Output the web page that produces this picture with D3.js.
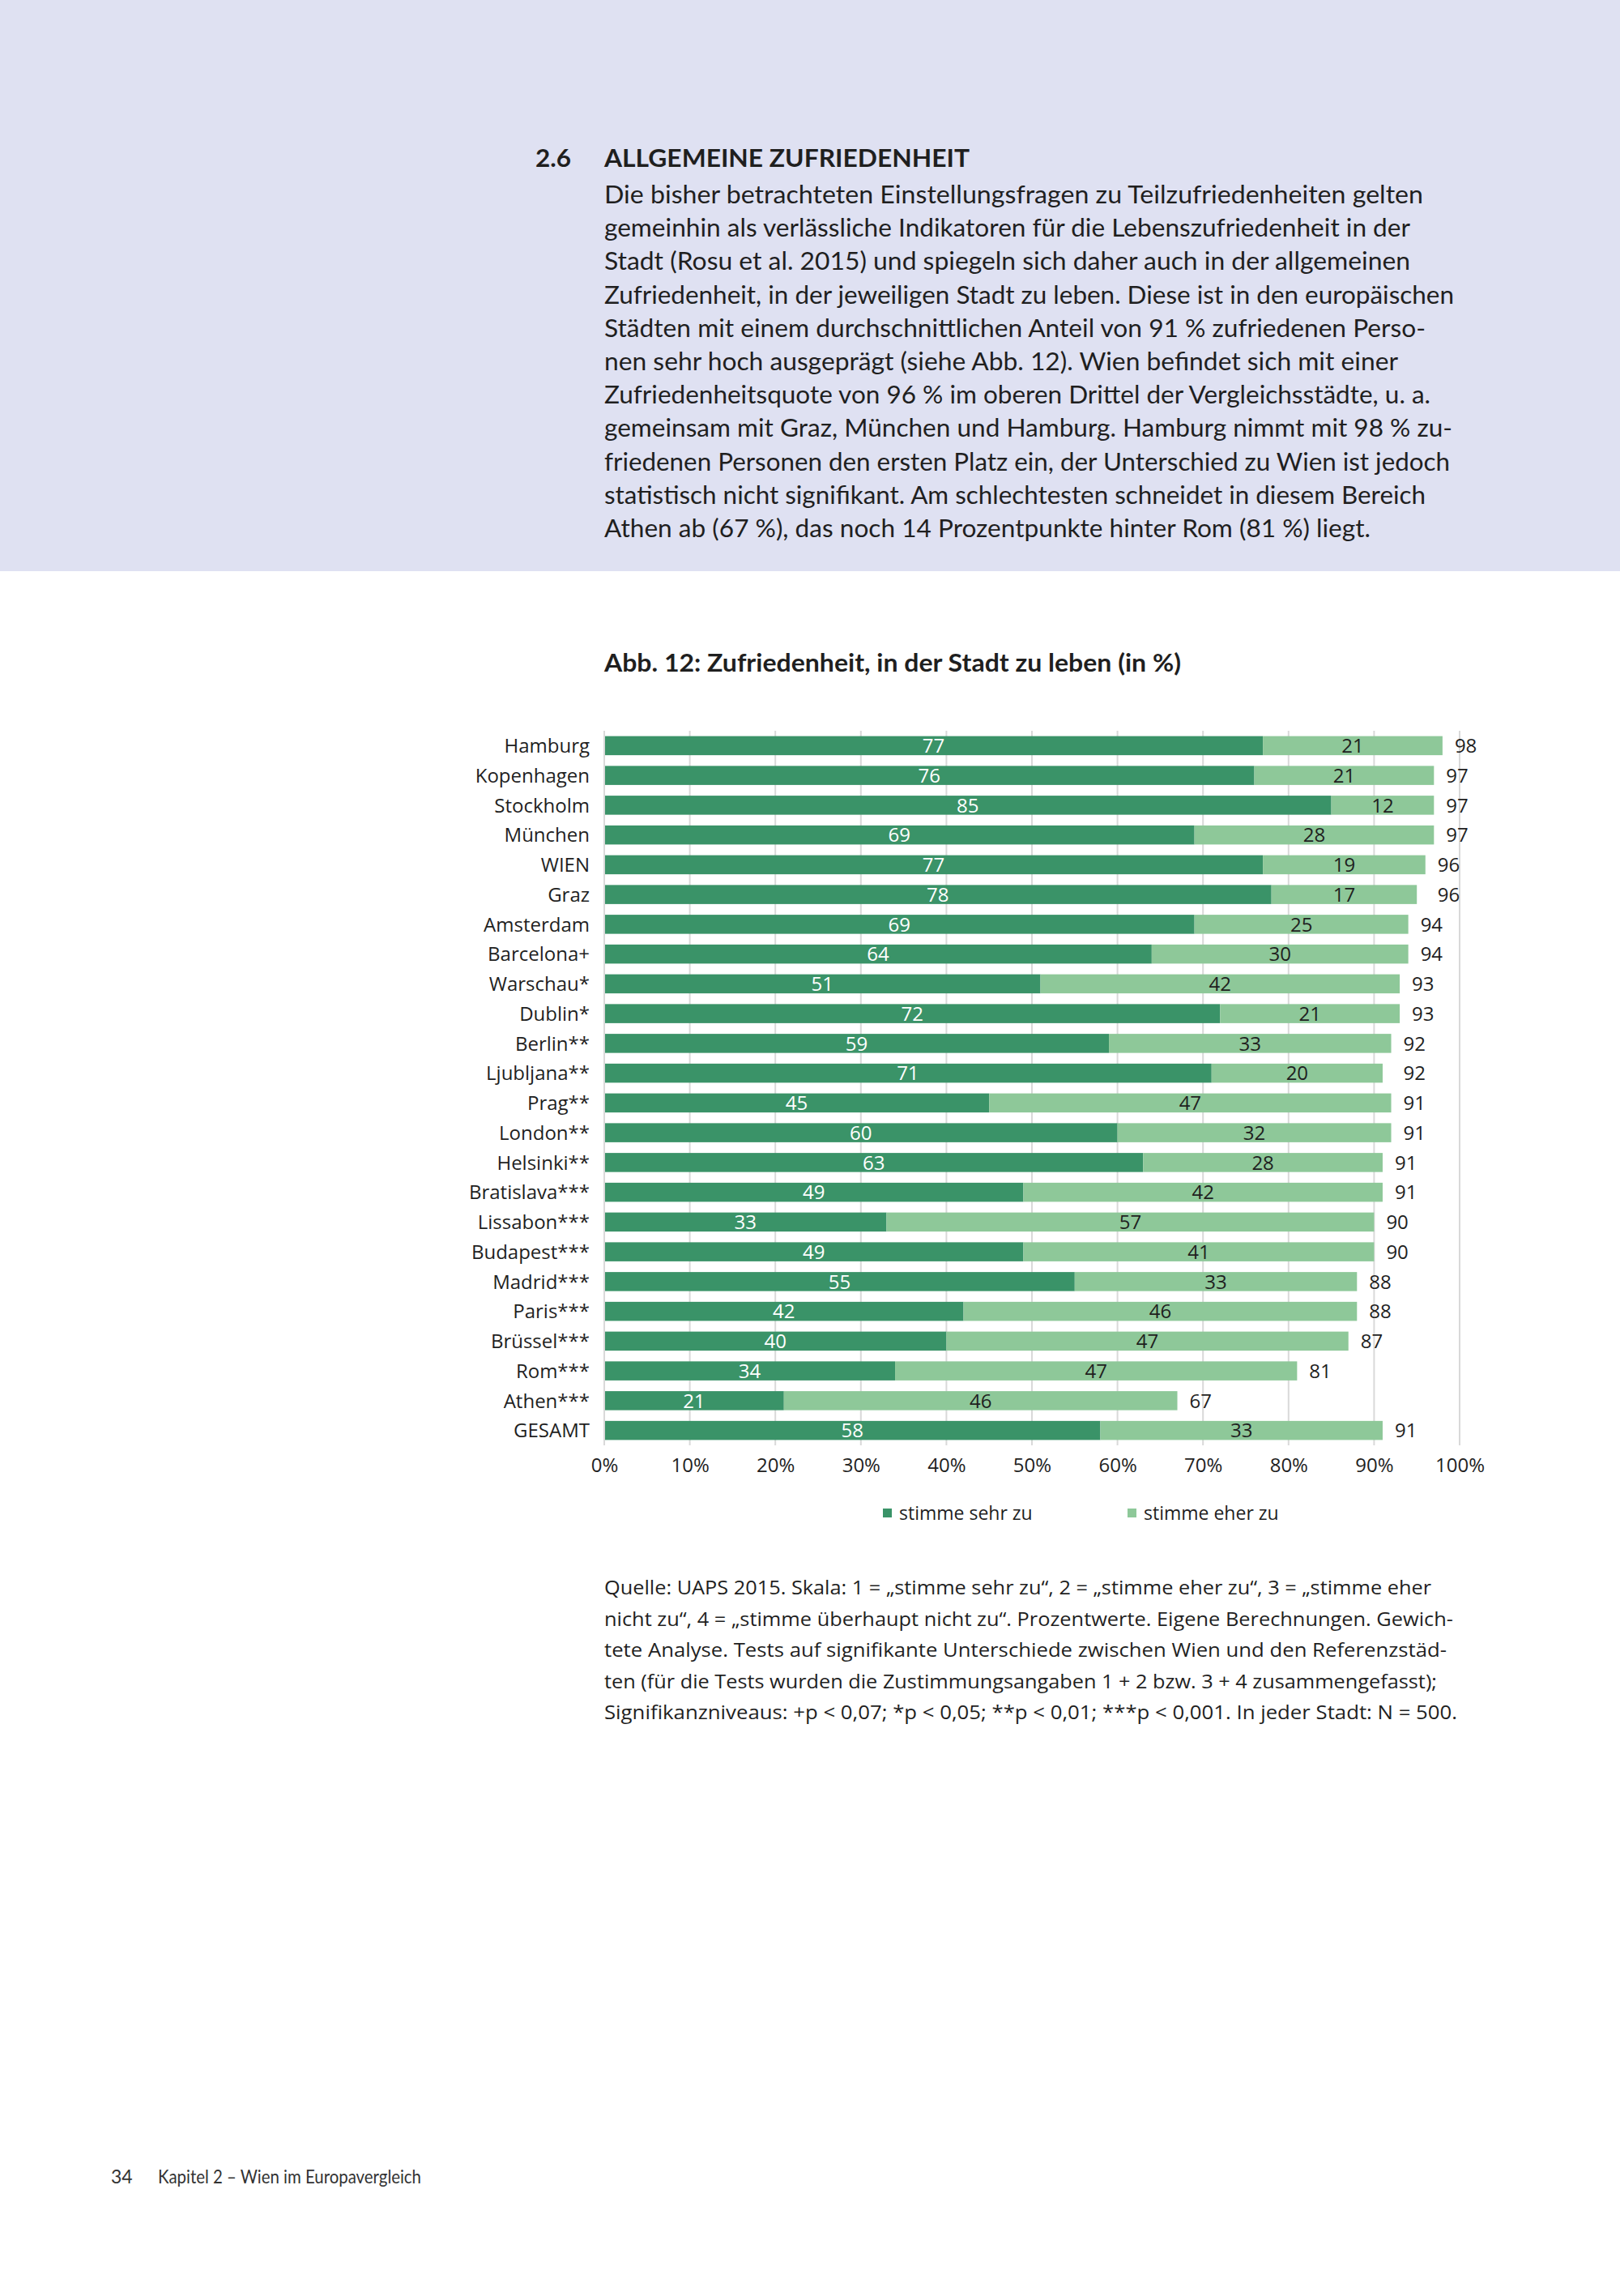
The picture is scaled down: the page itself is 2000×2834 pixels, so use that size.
<!DOCTYPE html>
<html>
<head>
<meta charset="utf-8">
<script src="https://cdn.jsdelivr.net/npm/d3@7"></script>
<style>
  html, body { margin: 0; padding: 0; background: #ffffff; }
  svg { display: block; }
</style>
</head>
<body>
<script>
// ---------- DATA ----------
const cities = ["Hamburg","Kopenhagen","Stockholm","München","WIEN","Graz","Amsterdam","Barcelona+","Warschau*","Dublin*","Berlin**","Ljubljana**","Prag**","London**","Helsinki**","Bratislava***","Lissabon***","Budapest***","Madrid***","Paris***","Brüssel***","Rom***","Athen***","GESAMT"];
const sehr   = [77,76,85,69,77,78,69,64,51,72,59,71,45,60,63,49,33,49,55,42,40,34,21,58];
const eher   = [21,21,12,28,19,17,25,30,42,21,33,20,47,32,28,42,57,41,33,46,47,47,46,33];
const total  = [98,97,97,97,96,96,94,94,93,93,92,92,91,91,91,91,90,90,88,88,87,81,67,91];
const tickValues = [0,10,20,30,40,50,60,70,80,90,100];
const seriesNames = ["stimme sehr zu","stimme eher zu"];

const headNumber = "2.6";
const headTitle = "ALLGEMEINE ZUFRIEDENHEIT";
const paragraph = [
  "Die bisher betrachteten Einstellungsfragen zu Teilzufriedenheiten gelten",
  "gemeinhin als verlässliche Indikatoren für die Lebenszufriedenheit in der",
  "Stadt (Rosu et al. 2015) und spiegeln sich daher auch in der allgemeinen",
  "Zufriedenheit, in der jeweiligen Stadt zu leben. Diese ist in den europäischen",
  "Städten mit einem durchschnittlichen Anteil von 91 % zufriedenen Perso-",
  "nen sehr hoch ausgeprägt (siehe Abb. 12). Wien befindet sich mit einer",
  "Zufriedenheitsquote von 96 % im oberen Drittel der Vergleichsstädte, u. a.",
  "gemeinsam mit Graz, München und Hamburg. Hamburg nimmt mit 98 % zu-",
  "friedenen Personen den ersten Platz ein, der Unterschied zu Wien ist jedoch",
  "statistisch nicht signifikant. Am schlechtesten schneidet in diesem Bereich",
  "Athen ab (67 %), das noch 14 Prozentpunkte hinter Rom (81 %) liegt."
];
const chartTitle = "Abb. 12: Zufriedenheit, in der Stadt zu leben (in %)";
const source = [
  "Quelle: UAPS 2015. Skala: 1 = „stimme sehr zu“, 2 = „stimme eher zu“, 3 = „stimme eher",
  "nicht zu“, 4 = „stimme überhaupt nicht zu“. Prozentwerte. Eigene Berechnungen. Gewich-",
  "tete Analyse. Tests auf signifikante Unterschiede zwischen Wien und den Referenzstäd-",
  "ten (für die Tests wurden die Zustimmungsangaben 1 + 2 bzw. 3 + 4 zusammengefasst);",
  "Signifikanzniveaus: +p < 0,07; *p < 0,05; **p < 0,01; ***p < 0,001. In jeder Stadt: N = 500."
];
const footerPage = "34";
const footerText = "Kapitel 2 – Wien im Europavergleich";

// ---------- LAYOUT ----------
const W = 2000, H = 2834;
const paraEnds = [1757,1741,1741,1795,1760,1726,1766,1793,1790,1760,1692];
const sourceEnds = [1767,1794,1786,1774,1799];
const darkGreen = "#3a9368", lightGreen = "#8ec899";
const textCol = "#1f1f1f";

const svg = d3.select("body").append("svg").attr("width", W).attr("height", H);
svg.append("rect").attr("width", W).attr("height", H).attr("fill", "#ffffff");
svg.append("rect").attr("width", W).attr("height", 705).attr("fill", "#dfe1f2");

// header
const textFont = "Lato, 'Open Sans', sans-serif";
svg.append("text").attr("x", 661).attr("y", 206).attr("font-family", textFont)
  .attr("font-size", 31).attr("font-weight", 700).attr("fill", textCol)
  .attr("textLength", 44).attr("lengthAdjust", "spacingAndGlyphs").text(headNumber);
svg.append("text").attr("x", 746).attr("y", 206).attr("font-family", textFont)
  .attr("font-size", 31).attr("font-weight", 700).attr("fill", textCol)
  .attr("textLength", 1197 - 746).attr("lengthAdjust", "spacingAndGlyphs").text(headTitle);
svg.append("g").selectAll("text").data(paragraph).join("text")
  .attr("x", 746).attr("y", (d, i) => 251 + 41.2 * i)
  .attr("font-family", textFont).attr("font-size", 31).attr("fill", textCol)
  .attr("textLength", (d, i) => paraEnds[i] - 746).attr("lengthAdjust", "spacingAndGlyphs")
  .text(d => d);

// chart title
svg.append("text").attr("x", 746).attr("y", 829).attr("font-family", textFont)
  .attr("font-size", 30).attr("font-weight", 700).attr("fill", textCol)
  .attr("textLength", 712).attr("lengthAdjust", "spacingAndGlyphs").text(chartTitle);

// scales
const x = d3.scaleLinear().domain([0, 100]).range([746, 1802]);
const y = d3.scaleBand().domain(cities).range([902, 1784]).paddingInner(0.36).paddingOuter(0.18);
const chartFont = "'Open Sans', sans-serif";
const fs = 24;

// gridlines
svg.append("g").selectAll("line").data(tickValues).join("line")
  .attr("x1", d => x(d)).attr("x2", d => x(d))
  .attr("y1", 902).attr("y2", 1784)
  .attr("stroke", "#d9d9d9").attr("stroke-width", 2);

// axis
const axis = svg.append("g").attr("transform", "translate(0,1784)")
  .call(d3.axisBottom(x).tickValues(tickValues).tickSize(0).tickPadding(16).tickFormat(d => d + "%"));
axis.select(".domain").remove();
axis.selectAll("text").attr("font-family", chartFont).attr("font-size", fs).attr("fill", textCol);

// bars
const rows = cities.map((c, i) => ({city: c, sehr: sehr[i], eher: eher[i], total: total[i]}));
const g = svg.append("g");
g.selectAll("rect.dark").data(rows).join("rect").attr("class", "dark")
  .attr("x", x(0) + 1).attr("y", d => y(d.city))
  .attr("width", d => x(d.sehr) - x(0) - 1).attr("height", y.bandwidth())
  .attr("fill", darkGreen);
g.selectAll("rect.light").data(rows).join("rect").attr("class", "light")
  .attr("x", d => x(d.sehr)).attr("y", d => y(d.city))
  .attr("width", d => x(d.sehr + d.eher) - x(d.sehr)).attr("height", y.bandwidth())
  .attr("fill", lightGreen);

const cy = d => y(d.city) + y.bandwidth() / 2;
g.selectAll("text.dl").data(rows).join("text").attr("class", "dl")
  .attr("x", d => x(d.sehr / 2)).attr("y", cy).attr("dy", "0.36em")
  .attr("text-anchor", "middle").attr("font-family", chartFont).attr("font-size", fs)
  .attr("fill", "#ffffff").text(d => d.sehr);
g.selectAll("text.ll").data(rows).join("text").attr("class", "ll")
  .attr("x", d => x(d.sehr + d.eher / 2)).attr("y", cy).attr("dy", "0.36em")
  .attr("text-anchor", "middle").attr("font-family", chartFont).attr("font-size", fs)
  .attr("fill", textCol).text(d => d.eher);
g.selectAll("text.tl").data(rows).join("text").attr("class", "tl")
  .attr("x", d => x(Math.max(d.total, d.sehr + d.eher)) + 15).attr("y", cy).attr("dy", "0.36em")
  .attr("text-anchor", "start").attr("font-family", chartFont).attr("font-size", fs)
  .attr("fill", textCol).text(d => d.total);

// city labels
g.selectAll("text.city").data(rows).join("text").attr("class", "city")
  .attr("x", 728).attr("y", cy).attr("dy", "0.36em")
  .attr("text-anchor", "end").attr("font-family", chartFont).attr("font-size", fs)
  .attr("fill", textCol).text(d => d.city);

// legend
const legX = [1090, 1392];
const leg = svg.append("g").selectAll("g").data(seriesNames).join("g")
  .attr("transform", (d, i) => `translate(${legX[i]},1868)`);
leg.append("rect").attr("x", 0).attr("y", -6).attr("width", 11).attr("height", 11)
  .attr("fill", (d, i) => i === 0 ? darkGreen : lightGreen);
leg.append("text").attr("x", 20).attr("y", 0).attr("dy", "0.36em")
  .attr("font-family", chartFont).attr("font-size", 23).attr("fill", textCol).text(d => d);

// source
svg.append("g").selectAll("text").data(source).join("text")
  .attr("x", 746).attr("y", (d, i) => 1968 + 38.5 * i)
  .attr("font-family", chartFont).attr("font-size", 23.5).attr("fill", textCol)
  .attr("textLength", (d, i) => sourceEnds[i] - 746).attr("lengthAdjust", "spacingAndGlyphs")
  .text(d => d);

// footer
svg.append("text").attr("x", 137).attr("y", 2695).attr("font-family", textFont)
  .attr("font-size", 23).attr("fill", "#333").text(footerPage);
svg.append("text").attr("x", 195).attr("y", 2695).attr("font-family", textFont)
  .attr("font-size", 23).attr("fill", "#333")
  .attr("textLength", 325).attr("lengthAdjust", "spacingAndGlyphs").text(footerText);
</script>
</body>
</html>
